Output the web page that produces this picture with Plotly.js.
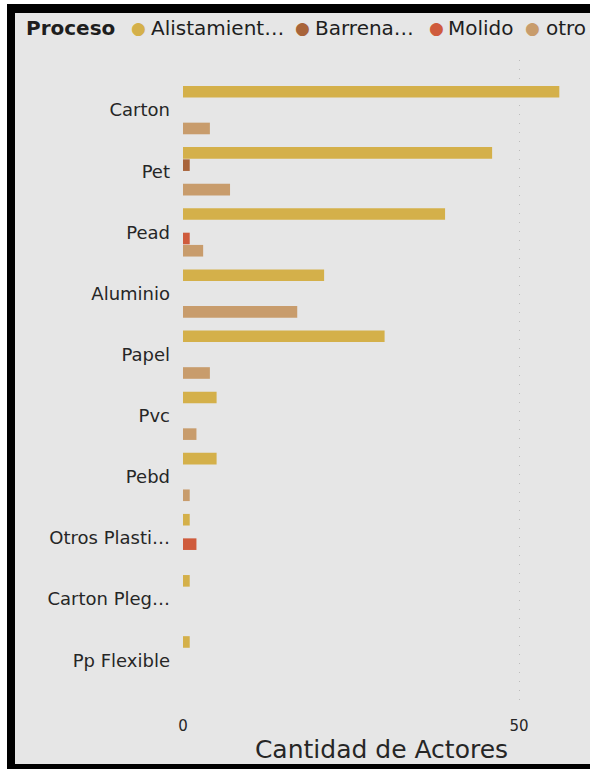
<!DOCTYPE html>
<html>
<head>
<meta charset="utf-8">
<script src="https://cdn.plot.ly/plotly-3.0.1.min.js"></script>
<style>
  html, body { margin: 0; padding: 0; background: #ffffff; width: 590px; height: 769px; overflow: hidden; position: relative; }
  .bar { position: absolute; background: #000; }
  #chart { position: absolute; left: 15px; top: 13px; width: 575px; height: 751px; }
</style>
</head>
<body>
<div class="bar" style="left:7px; top:4px; width:583px; height:9px;"></div>
<div class="bar" style="left:7px; top:4px; width:8px; height:765px;"></div>
<div class="bar" style="left:7px; top:764px; width:583px; height:5px;"></div>
<div id="chart"></div>
<script>
// ---- data ----
const categories = ["Carton", "Pet", "Pead", "Aluminio", "Papel", "Pvc", "Pebd", "Otros Plasti…", "Carton Pleg…", "Pp Flexible"];
const seriesNames = ["Alistamient…", "Barrena…", "Molido", "otro"];
const alistamiento = [56, 46, 39, 21, 30, 5, 5, 1, 1, 1];
const barrenado    = [null, 1, null, null, null, null, null, null, null, null];
const molido       = [null, null, 1, null, null, null, null, 2, null, null];
const otro         = [4, 7, 3, 17, 4, 2, 1, null, null, null];
const xTicks = [0, 50];
const legendTitle = "Proceso";
const xTitle = "Cantidad de Actores";

// ---- styles ----
const colors = ["#D4B04A", "#A8643A", "#CF5B3C", "#C89C6C"];
const seriesValues = [alistamiento, barrenado, molido, otro];

const traces = seriesValues.map((vals, i) => ({
  type: "bar",
  orientation: "h",
  name: seriesNames[i],
  y: categories,
  x: vals,
  marker: { color: colors[i] },
  showlegend: false,
  hoverinfo: "x+y+name"
}));

const W = 575, H = 751, OX = 15, OY = 13;
const margin = { l: 168, r: 10, t: 47, b: 56 };
const plotW = W - margin.l - margin.r;
const plotH = H - margin.t - margin.b;
const px2x = p => (p - OX - margin.l) / plotW;
const py2y = p => 1 - (p - OY - margin.t) / plotH;

// legend layout (page pixel positions of legend pieces)
const legendY = py2y(28);
const circleX = [138, 302, 436, 532];
const labelX = [149, 313, 446, 544];
const legendFont = { family: "DejaVu Sans", size: 20, color: "#1e1e1e" };

const annotations = [{
  xref: "paper", yref: "paper", x: px2x(24), y: legendY,
  xanchor: "left", yanchor: "middle", showarrow: false,
  text: "<b>" + legendTitle + "</b>", font: legendFont
}];
seriesNames.forEach((n, i) => {
  annotations.push({
    xref: "paper", yref: "paper", x: px2x(circleX[i]), y: legendY,
    xanchor: "center", yanchor: "middle", showarrow: false,
    text: "●", font: { family: "DejaVu Sans", size: 17, color: colors[i] }
  });
  annotations.push({
    xref: "paper", yref: "paper", x: px2x(labelX[i]), y: legendY,
    xanchor: "left", yanchor: "middle", showarrow: false,
    text: n, font: legendFont
  });
});

const layout = {
  width: W, height: H,
  margin: margin,
  paper_bgcolor: "#E6E6E6",
  plot_bgcolor: "#E6E6E6",
  barmode: "group",
  bargap: 0.2,
  bargroupgap: 0.05,
  font: { family: "DejaVu Sans", color: "#262626" },
  xaxis: {
    range: [0, plotW / 6.72],
    tickvals: xTicks,
    ticktext: xTicks.map(String),
    showgrid: true,
    gridcolor: "#BDBDBD",
    griddash: "1px,8px",
    gridwidth: 1,
    zeroline: false,
    showline: false,
    ticks: "",
    tickfont: { family: "DejaVu Sans", size: 15, color: "#262626" },
    ticklabelstandoff: 7,
    title: { text: xTitle, font: { family: "DejaVu Sans", size: 25, color: "#262626" }, standoff: 10 },
    automargin: false,
    fixedrange: true
  },
  yaxis: {
    type: "category",
    categoryorder: "array",
    categoryarray: categories,
    range: [9.78, -0.82],
    showgrid: false,
    zeroline: false,
    showline: false,
    ticks: "",
    tickfont: { family: "DejaVu Sans", size: 18, color: "#262626" },
    ticklabelstandoff: 12,
    automargin: false,
    fixedrange: true
  },
  annotations: annotations
};

Plotly.newPlot("chart", traces, layout, { displayModeBar: false, staticPlot: true });
</script>
</body>
</html>
